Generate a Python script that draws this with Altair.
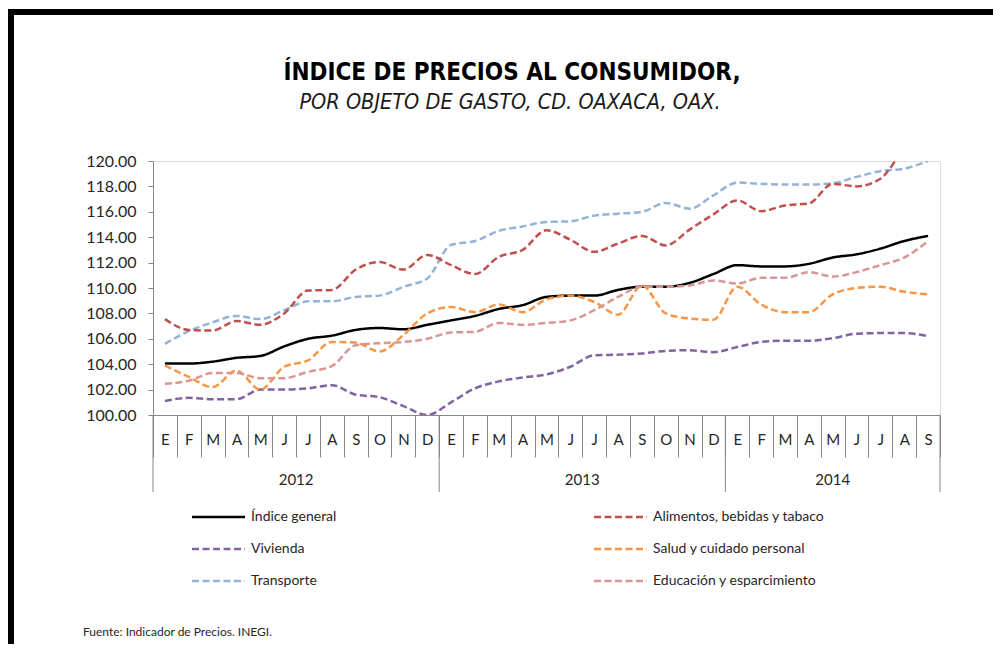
import json
import altair as alt
import pandas as pd

# ---------------- data ----------------
months = ["E", "F", "M", "A", "M", "J", "J", "A", "S", "O", "N", "D",
          "E", "F", "M", "A", "M", "J", "J", "A", "S", "O", "N", "D",
          "E", "F", "M", "A", "M", "J", "J", "A", "S"]
years = ["2012", "2013", "2014"]
months_per_year = [12, 12, 9]

# legend order (column-major: left column then right column)
series_names = ["Índice general", "Vivienda", "Transporte",
                "Alimentos, bebidas y tabaco", "Salud y cuidado personal", "Educación y esparcimiento"]

indice_general = [104.05, 104.05, 104.2, 104.5, 104.65, 105.4, 106.0, 106.25, 106.7, 106.85, 106.75, 107.1,
                  107.45, 107.8, 108.35, 108.65, 109.3, 109.4, 109.4, 109.85, 110.1, 110.1, 110.4, 111.1,
                  111.8, 111.7, 111.7, 111.9, 112.4, 112.65, 113.1, 113.7, 114.1]
vivienda = [101.1, 101.35, 101.25, 101.25, 102.0, 102.0, 102.1, 102.35, 101.6, 101.4, 100.7, 100.0,
            101.0, 102.1, 102.65, 102.95, 103.2, 103.8, 104.7, 104.75, 104.85, 105.05, 105.1, 104.95,
            105.35, 105.75, 105.85, 105.85, 106.05, 106.4, 106.45, 106.45, 106.2]
transporte = [105.6, 106.6, 107.3, 107.8, 107.55, 108.25, 108.95, 108.95, 109.3, 109.4, 110.1, 110.75,
              113.4, 113.7, 114.5, 114.85, 115.2, 115.25, 115.7, 115.85, 116.0, 116.7, 116.25, 117.3,
              118.3, 118.2, 118.15, 118.15, 118.25, 118.75, 119.2, 119.4, 120.0]
alimentos = [107.55, 106.7, 106.65, 107.4, 107.1, 108.0, 109.8, 109.85, 111.45, 112.05, 111.45, 112.6,
             111.8, 111.1, 112.45, 113.0, 114.55, 113.8, 112.85, 113.5, 114.1, 113.35, 114.6, 115.8,
             116.9, 116.05, 116.5, 116.65, 118.2, 118.0, 118.6, 120.7, 121.2]
salud = [103.9, 103.0, 102.2, 103.5, 102.0, 103.8, 104.3, 105.75, 105.7, 105.0, 106.3, 108.0,
         108.5, 108.1, 108.7, 108.1, 109.1, 109.4, 108.9, 107.9, 110.2, 108.0, 107.6, 107.5,
         110.1, 108.7, 108.1, 108.1, 109.5, 110.0, 110.1, 109.7, 109.5]
educacion = [102.45, 102.7, 103.3, 103.3, 102.9, 102.9, 103.4, 103.85, 105.5, 105.65, 105.75, 106.0,
             106.5, 106.55, 107.25, 107.1, 107.25, 107.45, 108.25, 109.3, 110.1, 110.1, 110.2, 110.6,
             110.35, 110.8, 110.8, 111.25, 110.9, 111.25, 111.8, 112.4, 113.7]

y_ticks = [100, 102, 104, 106, 108, 110, 112, 114, 116, 118, 120]

title_text = "ÍNDICE DE PRECIOS AL CONSUMIDOR,"
subtitle_text = "POR OBJETO DE GASTO, CD. OAXACA, OAX."
source_text = "Fuente: Indicador de Precios. INEGI."

# ---------------- styles ----------------
series_colors = ["#000000", "#8064A2", "#95B3D7", "#C0504D", "#F79646", "#D99694"]
series_dashes = [[1, 0], [7, 3.5], [7, 3.5], [7, 3.5], [7, 3.5], [7, 3.5]]

FONT = "Lato"
TITLE_FONT = "DejaVu Sans Condensed, DejaVu Sans, sans-serif"
TXT = "#262626"
AXC = "#868686"

W, H = 787, 254
PAD_L, PAD_T = 145, 153
TOTAL_W, TOTAL_H = 985, 636

# ---------------- tables ----------------
values_by_series = [indice_general, vivienda, transporte, alimentos, salud, educacion]
rows = []
for name, vals in zip(series_names, values_by_series):
    for i, v in enumerate(vals):
        rows.append({"idx": i, "serie": name, "valor": v})
df = pd.DataFrame(rows)

total_months = sum(months_per_year)
year_df = pd.DataFrame({"anio": years, "meses": months_per_year})
year_df["inicio"] = year_df["meses"].cumsum() - year_df["meses"]
year_df["centro"] = year_df["inicio"] + year_df["meses"] / 2
bound_df = pd.DataFrame({"limite": list(year_df["inicio"]) + [total_months]})

legend_df = pd.DataFrame({"serie": series_names, "orden": list(range(len(series_names)))})

label_expr = json.dumps(months) + "[datum.value]"

color_scale = alt.Scale(domain=series_names, range=series_colors)
dash_scale = alt.Scale(domain=series_names, range=series_dashes)

lines = alt.Chart(df).mark_line(clip=True, strokeWidth=2.5, interpolate="monotone").encode(
    x=alt.X("idx:O", bandPosition=0.5,
            scale=alt.Scale(type="band", paddingInner=0, paddingOuter=0),
            axis=alt.Axis(title=None, labelExpr=label_expr, labelAngle=0, tickBand="extent",
                          tickSize=42, labelPadding=-25, domainColor=AXC, tickColor=AXC,
                          labelFont=FONT, labelFontSize=15, labelColor=TXT)),
    y=alt.Y("valor:Q", scale=alt.Scale(domain=[100, 120], nice=False, zero=False),
            axis=alt.Axis(title=None, values=y_ticks, format=".2f", grid=False, tickSize=5,
                          labelPadding=12, domainColor=AXC, tickColor=AXC,
                          labelFont=FONT, labelFontSize=16, labelColor=TXT)),
    color=alt.Color("serie:N", scale=color_scale, legend=None),
    strokeDash=alt.StrokeDash("serie:N", scale=dash_scale, legend=None),
)

xq = alt.Scale(domain=[0, total_months], nice=False, zero=True)
year_rules = alt.Chart(bound_df).mark_rule(color=AXC, strokeWidth=1).encode(
    x=alt.X("limite:Q", scale=xq, axis=None),
    y=alt.value(H), y2=alt.value(H + 77),
)
year_text = alt.Chart(year_df).mark_text(font=FONT, fontSize=15, color=TXT).encode(
    x=alt.X("centro:Q", scale=xq, axis=None),
    y=alt.value(H + 65), text="anio:N",
)

# legend built by hand: 2 columns x 3 rows
legend_base = alt.Chart(legend_df).transform_calculate(
    col="floor(datum.orden / 3)",
    fila="datum.orden % 3",
).transform_calculate(
    px="39 + 402 * datum.col",
    px2="39 + 402 * datum.col + 53",
    tx="39 + 402 * datum.col + 59",
    py="356 + 32 * datum.fila",
)
legend_sym = legend_base.mark_rule(strokeWidth=2.5).encode(
    x=alt.X("px:Q", scale=None, axis=None),
    x2="px2:Q",
    y=alt.Y("py:Q", scale=None, axis=None),
    color=alt.Color("serie:N", scale=color_scale, legend=None),
    strokeDash=alt.StrokeDash("serie:N", scale=dash_scale, legend=None),
)
legend_lbl = legend_base.mark_text(align="left", baseline="middle", font=FONT, fontSize=14,
                                   color=TXT).encode(
    x=alt.X("tx:Q", scale=None, axis=None),
    y=alt.Y("py:Q", scale=None, axis=None),
    text="serie:N",
)

title_mark = alt.Chart(pd.DataFrame({"t": [title_text]})).mark_text(
    align="center", baseline="alphabetic", font=TITLE_FONT, fontSize=24,
    fontWeight="bold", color="#000000"
).encode(x=alt.value(512 - 153), y=alt.value(80 - 161), text="t:N")

subtitle_mark = alt.Chart(pd.DataFrame({"s": [subtitle_text]})).mark_text(
    align="center", baseline="alphabetic", font=TITLE_FONT, fontSize=21.5,
    fontStyle="italic", color="#1a1a1a"
).encode(x=alt.value(510 - 153), y=alt.value(109 - 161), text="s:N")

note = alt.Chart(pd.DataFrame({"nota": [source_text]})).mark_text(
    align="left", baseline="middle", font=FONT, fontSize=12, color=TXT
).encode(x=alt.value(83 - 153), y=alt.value(632 - 161), text="nota:N")

frame_df = pd.DataFrame({"k": [0]})
frame_top = alt.Chart(frame_df).mark_rule(color="black", strokeWidth=6).encode(
    x=alt.value(-PAD_L), x2=alt.value(TOTAL_W - PAD_L), y=alt.value(-149))
frame_left = alt.Chart(frame_df).mark_rule(color="black", strokeWidth=6).encode(
    x=alt.value(-142), y=alt.value(-152), y2=alt.value(TOTAL_H - PAD_T))

chart = alt.layer(
    lines, year_rules, year_text, legend_sym, legend_lbl,
    title_mark, subtitle_mark, note, frame_top, frame_left
).resolve_scale(
    x="independent", y="independent"
).properties(
    width=W, height=H,
    padding={"left": PAD_L, "top": PAD_T, "right": TOTAL_W - PAD_L - W, "bottom": TOTAL_H - PAD_T - H},
    autosize=alt.AutoSizeParams(type="none"),
).configure_view(stroke=None).configure(background="white")

chart.save("out.html", embed_options={"renderer": "svg", "actions": False})
